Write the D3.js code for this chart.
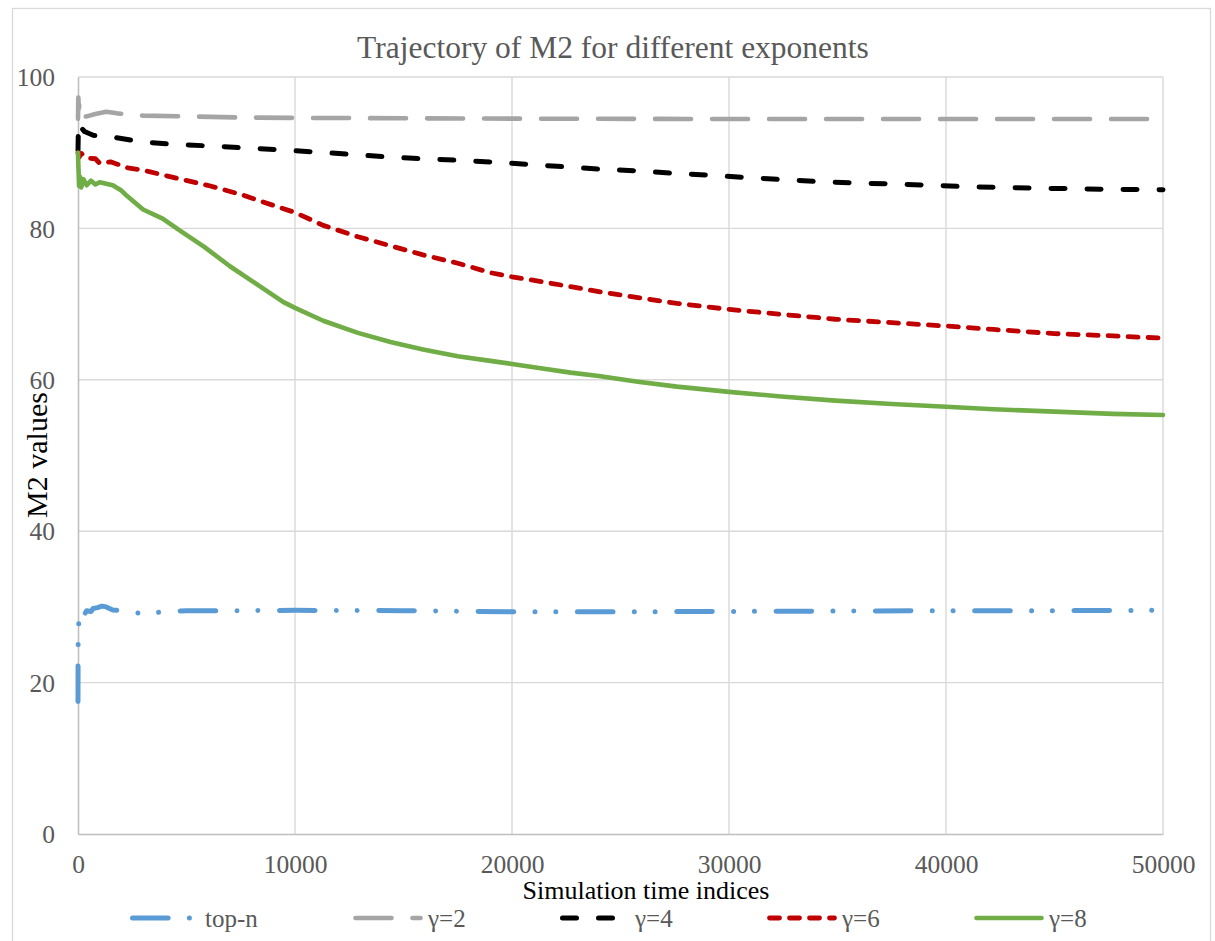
<!DOCTYPE html>
<html>
<head>
<meta charset="utf-8">
<script src="https://cdn.jsdelivr.net/npm/d3@7"></script>
<style>
html,body{margin:0;padding:0;background:#fff;}
svg text{font-family:"Liberation Serif","Times New Roman",serif;}
</style>
</head>
<body>
<svg id="chart" width="1215" height="941"></svg>
<script>
// ---------- DATA ----------
const chartTitle = "Trajectory of M2 for different exponents";
const xTitle = "Simulation time indices";
const yTitle = "M2 values";
const xTicks = [0, 10000, 20000, 30000, 40000, 50000];
const yTicks = [0, 20, 40, 60, 80, 100];
const seriesNames = ["top-n", "γ=2", "γ=4", "γ=6", "γ=8"];

const topN = [[0,17.5],[3,22.5],[8,25],[20,27.5],[60,28.4],[120,28.0],[200,29.2],[300,29.0],[400,29.5],[600,29.4],[700,29.8],[900,29.9],[1100,30.1],[1300,30.0],[1600,29.6],[2000,29.5],[2500,29.3],[3000,29.1],[3500,29.2],[4000,29.4],[5000,29.5],[7000,29.5],[10000,29.55],[15000,29.5],[20000,29.35],[25000,29.35],[30000,29.4],[35000,29.45],[40000,29.5],[45000,29.5],[50000,29.55]];
const gamma2 = [[0,94.5],[15,97.3],[40,95.8],[70,96.6],[120,95.2],[200,94.7],[400,94.8],[800,95.1],[1300,95.4],[1800,95.2],[3000,94.9],[5000,94.8],[7500,94.65],[10000,94.6],[15000,94.55],[20000,94.5],[30000,94.45],[40000,94.45],[50000,94.45]];
const gamma4 = [[0,90.3],[10,92.0],[20,93.6],[60,93.0],[120,93.4],[300,92.8],[700,92.3],[1500,92.1],[2900,91.45],[4400,91.1],[6000,90.9],[7600,90.65],[9200,90.4],[10900,90.1],[12500,89.8],[14200,89.45],[15850,89.2],[17500,89.0],[19200,88.75],[20800,88.45],[22350,88.15],[24200,87.8],[25800,87.6],[27600,87.25],[29300,87.0],[30900,86.7],[32500,86.45],[34300,86.15],[35900,86.0],[37700,85.85],[39300,85.7],[41000,85.5],[42700,85.4],[44400,85.3],[46000,85.25],[47700,85.15],[50000,85.1]];
const gamma6 = [[0,90.0],[50,89.4],[150,89.9],[400,89.3],[800,89.2],[1000,88.6],[1500,88.8],[2300,88.0],[3000,87.7],[4000,87.0],[4900,86.4],[6100,85.6],[7600,84.4],[9200,82.85],[10000,82.1],[11300,80.4],[12900,78.9],[14400,77.7],[15900,76.5],[17500,75.4],[19000,74.15],[20000,73.6],[21400,72.95],[22700,72.3],[24000,71.65],[25800,70.85],[27600,70.1],[30000,69.3],[32400,68.65],[34900,68.0],[37500,67.55],[40000,67.1],[42200,66.65],[45000,66.1],[47700,65.8],[50000,65.5]];
const gamma8 = [[0,90],[20,88],[50,85.6],[100,86.8],[150,85.4],[250,86.5],[400,85.7],[600,86.3],[800,85.8],[1000,86.1],[1300,85.9],[1600,85.7],[2000,85.0],[2250,84.3],[3000,82.5],[3900,81.3],[4700,79.7],[5800,77.6],[7000,75.0],[8250,72.6],[9450,70.3],[10000,69.5],[11300,67.8],[12900,66.2],[14400,65.0],[15900,64.0],[17500,63.1],[19000,62.5],[20000,62.1],[21400,61.5],[22700,60.95],[24000,60.5],[25800,59.75],[27600,59.1],[30000,58.4],[32400,57.8],[34900,57.25],[37500,56.8],[40000,56.45],[42200,56.1],[45000,55.8],[47700,55.5],[50000,55.35]];
const seriesData = [topN, gamma2, gamma4, gamma6, gamma8];

// ---------- STYLE ----------
const FONT = '"Liberation Serif","Times New Roman",serif';
const styles = [
  {color:"#5B9BD5", width:5,   dash:"35.6,21.3,0.01,20.8,0.01,21.6"},
  {color:"#A5A5A5", width:4.6, dash:"36,21"},
  {color:"#000000", width:5,   dash:"14,22"},
  {color:"#C00000", width:4.8, dash:"10,10"},
  {color:"#70AD47", width:4.6, dash:null}
];

const svg = d3.select("#chart");
const plot = {left:78, right:1163, top:77, bottom:834};

// outer chart border
svg.append("rect").attr("x",12.5).attr("y",8.5).attr("width",1198).attr("height",945)
  .attr("fill","#fff").attr("stroke","#d9d9d9").attr("stroke-width",1.3);

const x = d3.scaleLinear().domain([0,50000]).range([plot.left, plot.right]);
const y = d3.scaleLinear().domain([0,100]).range([plot.bottom, plot.top]);

// gridlines
svg.append("g").selectAll("line").data(yTicks.filter(d=>d>0)).join("line")
  .attr("x1",plot.left).attr("x2",plot.right)
  .attr("y1",d=>y(d)).attr("y2",d=>y(d))
  .attr("stroke","#d9d9d9").attr("stroke-width",1.4);
svg.append("g").selectAll("line").data(xTicks.filter(d=>d>0)).join("line")
  .attr("y1",plot.top).attr("y2",plot.bottom)
  .attr("x1",d=>x(d)).attr("x2",d=>x(d))
  .attr("stroke","#d9d9d9").attr("stroke-width",1.4);

// axes
const xAxis = d3.axisBottom(x).tickValues(xTicks).tickSize(0).tickPadding(22).tickFormat(d3.format("d"));
const yAxis = d3.axisLeft(y).tickValues(yTicks).tickSize(0).tickPadding(23).tickFormat(d3.format("d"));
const gx = svg.append("g").attr("transform",`translate(0,${plot.bottom})`).call(xAxis);
const gy = svg.append("g").attr("transform",`translate(${plot.left},0)`).call(yAxis);
[gx,gy].forEach(g=>{
  g.attr("font-family",FONT).attr("font-size",25.5);
  g.select(".domain").attr("stroke","#bfbfbf").attr("stroke-width",1.6);
  g.selectAll("text").attr("fill","#595959").style("font-size","25.5px").style("font-family",FONT);
});
gy.selectAll("text").attr("dy","0.34em");
gx.selectAll("text").attr("dy","0.66em");

// series lines
const line = d3.line().x(d=>x(d[0])).y(d=>y(d[1]));
seriesData.forEach((data,i)=>{
  const s = styles[i];
  const p = svg.append("path").datum(data).attr("d",line)
    .attr("fill","none").attr("stroke",s.color).attr("stroke-width",s.width)
    .attr("stroke-linecap","round").attr("stroke-linejoin","round");
  if (s.dash) p.attr("stroke-dasharray",s.dash);
});

// titles
svg.append("text").attr("x",613).attr("y",58).attr("text-anchor","middle")
  .attr("fill","#595959").style("font-size","31.5px").style("font-family",FONT).text(chartTitle);
svg.append("text").attr("x",646).attr("y",899).attr("text-anchor","middle")
  .attr("fill","#000").style("font-size","26px").style("font-family",FONT).text(xTitle);
svg.append("text").attr("transform","translate(47,455) rotate(-90)").attr("text-anchor","middle")
  .attr("fill","#000").style("font-size","30px").style("font-family",FONT).text(yTitle);

// legend
const legendStart = [130, 353, 560, 767, 974];
const legendY = 918;
seriesNames.forEach((name,i)=>{
  const s = styles[i];
  const sx = legendStart[i];
  const l = svg.append("line").attr("x1",sx+2.5).attr("x2",sx+67.5)
    .attr("y1",legendY).attr("y2",legendY)
    .attr("stroke",s.color).attr("stroke-width",s.width).attr("stroke-linecap","round");
  if (s.dash) l.attr("stroke-dasharray",s.dash);
  svg.append("text").attr("x",sx+75).attr("y",legendY+9)
    .attr("fill","#595959").style("font-size","25px").style("font-family",FONT).text(name);
});
</script>
</body>
</html>
